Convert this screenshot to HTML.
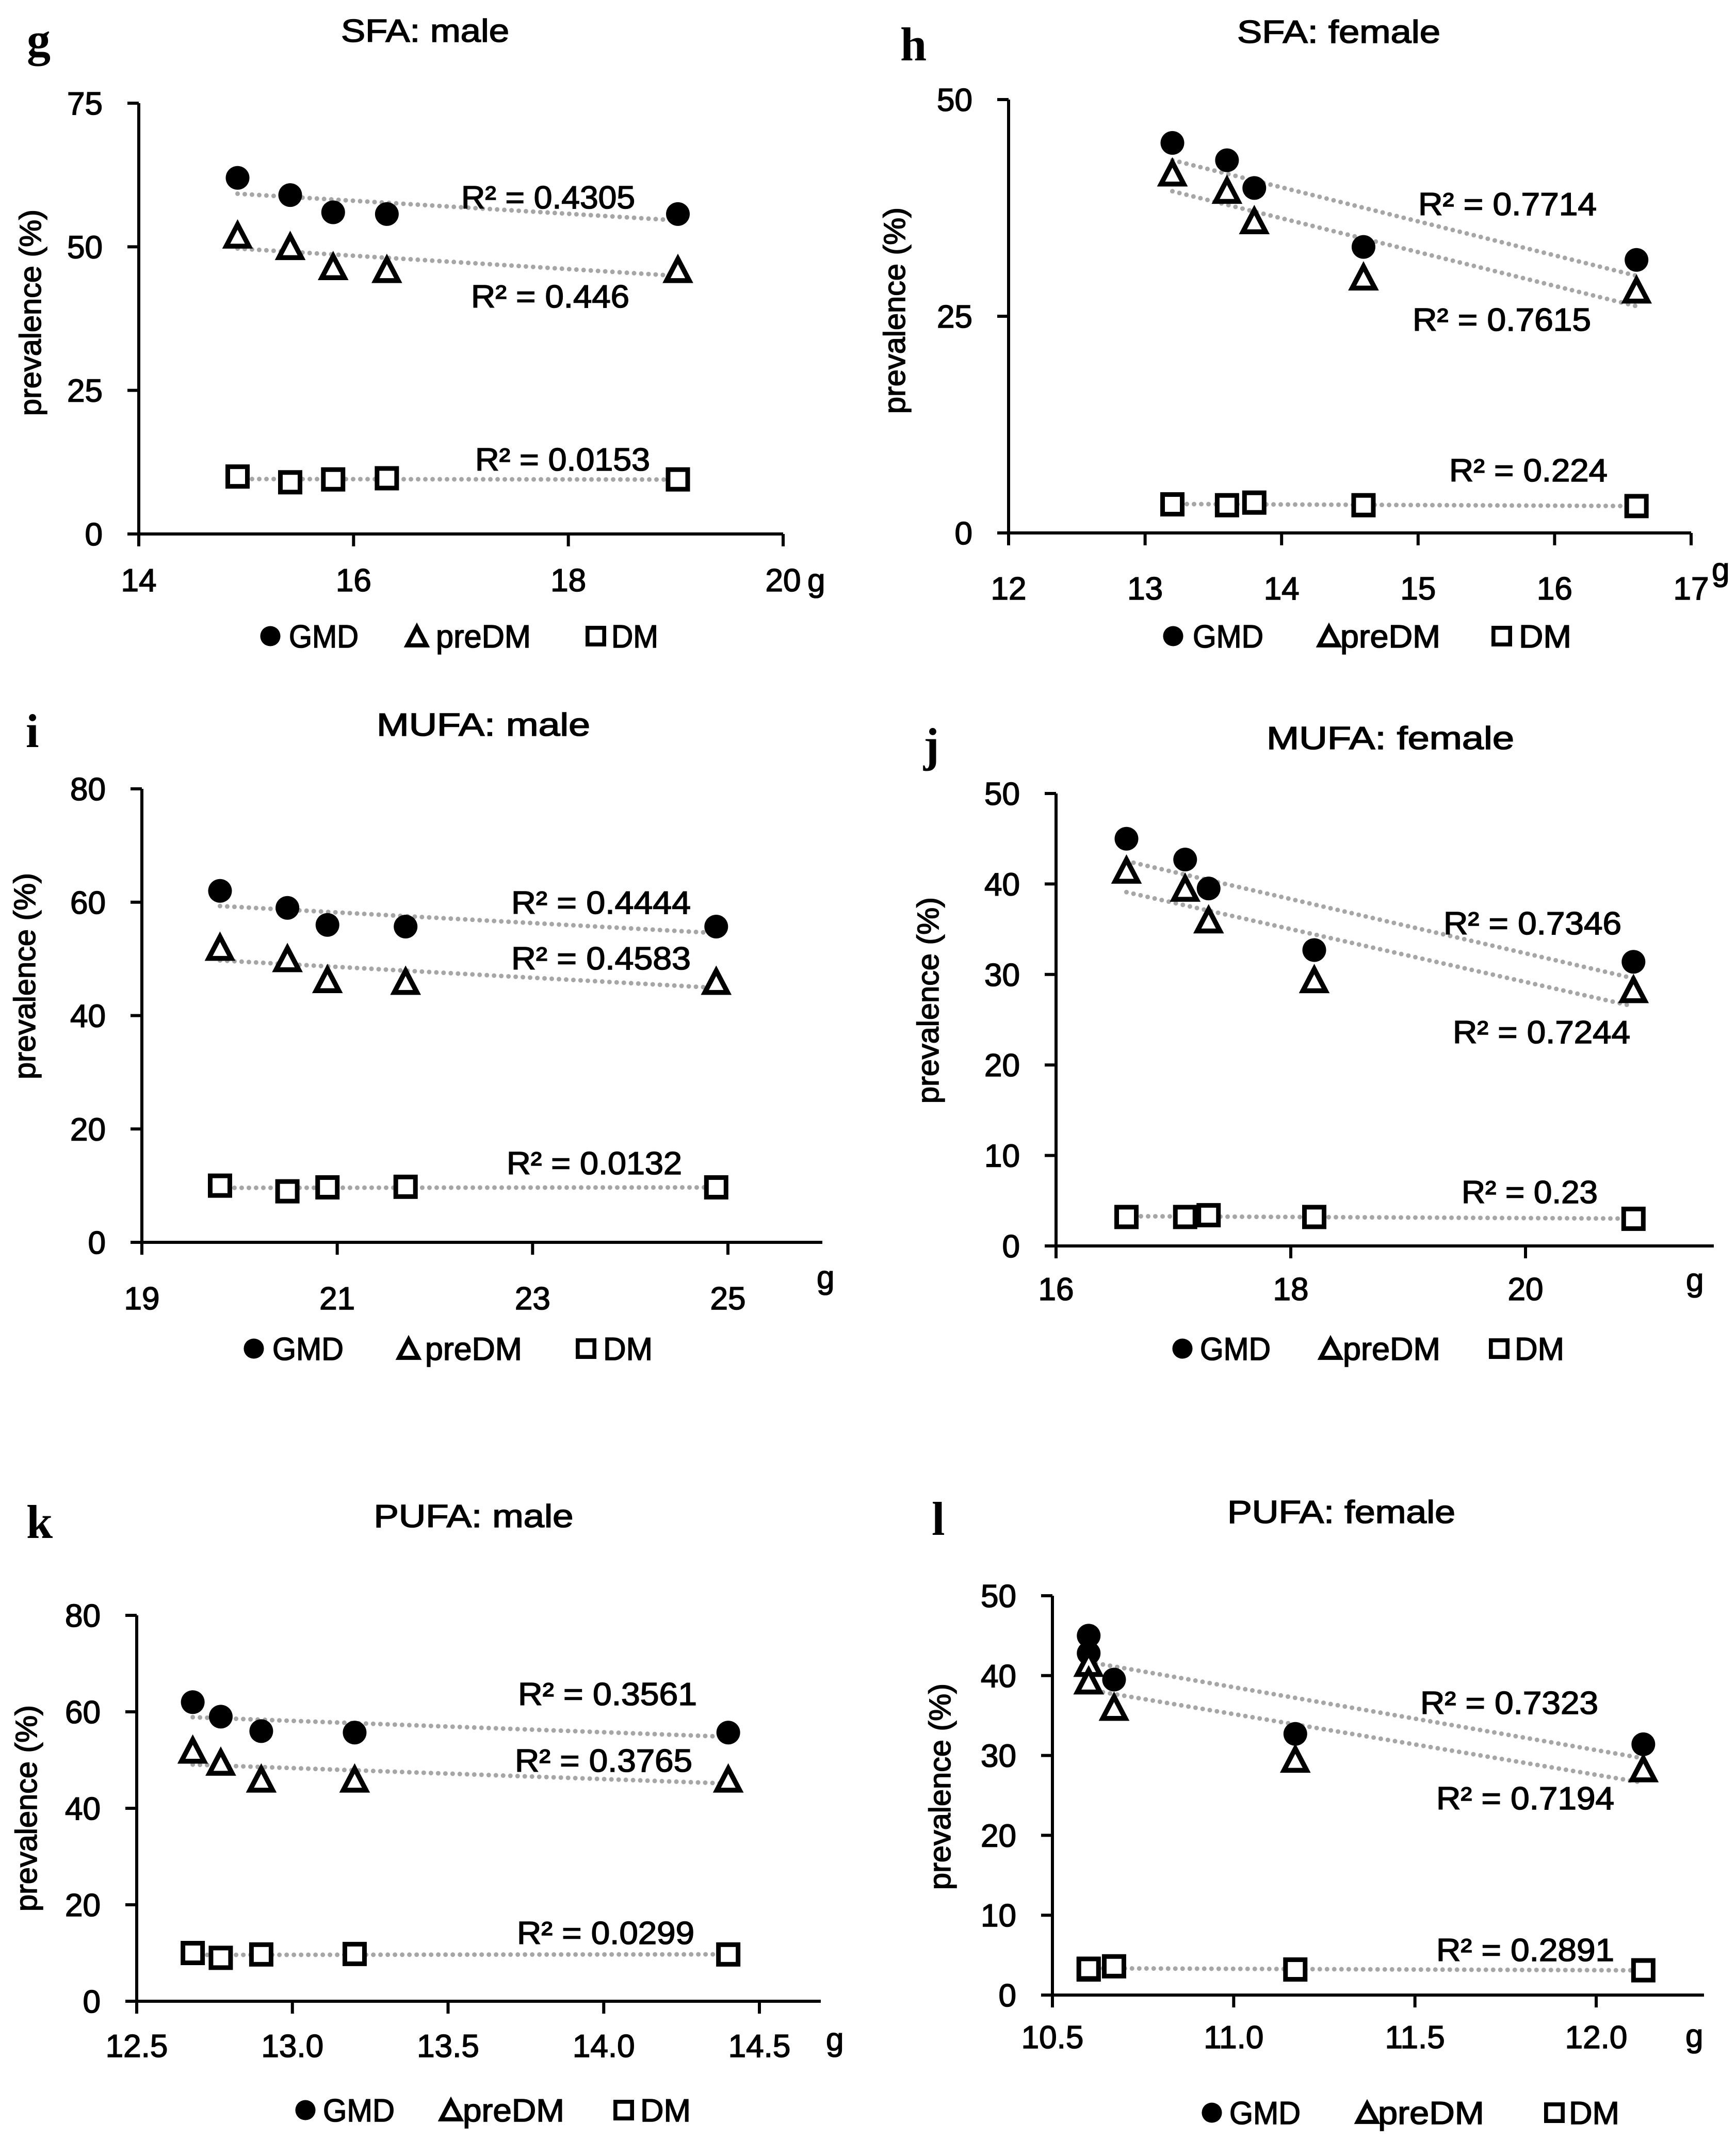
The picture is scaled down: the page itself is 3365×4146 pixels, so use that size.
<!DOCTYPE html>
<html><head><meta charset="utf-8"><style>
html,body{margin:0;padding:0;background:#fff;}
svg{display:block;}
text{font-family:"Liberation Sans",sans-serif;fill:#000;stroke:#000;stroke-width:1.6px;}
text.serif{stroke-width:0;}
</style></head><body>
<svg id="fig" width="3365" height="4146" viewBox="0 0 3365 4146" xmlns="http://www.w3.org/2000/svg"></svg>
<script>
// ---------- DATA ----------
const sfaMaleX = [14.92, 15.41, 15.81, 16.31, 19.02];
const sfaMaleGMD = [62, 59, 56, 55.7, 55.7];
const sfaMalePre = [52, 50, 46.5, 46, 46];
const sfaMaleDM = [10, 9, 9.5, 9.7, 9.5];
const sfaMaleR2 = ["R² = 0.4305", "R² = 0.446", "R² = 0.0153"];

const sfaFemX = [13.2, 13.6, 13.8, 14.6, 16.6];
const sfaFemGMD = [45, 43, 39.8, 33, 31.5];
const sfaFemPre = [41.5, 39.5, 36, 29.5, 28];
const sfaFemDM = [3.3, 3.2, 3.5, 3.2, 3.1];
const sfaFemR2 = ["R² = 0.7714", "R² = 0.7615", "R² = 0.224"];

const mufaMaleX = [19.8, 20.49, 20.9, 21.7, 24.88];
const mufaMaleGMD = [62, 59, 56, 55.7, 55.7];
const mufaMalePre = [52, 50, 46.3, 46, 46];
const mufaMaleDM = [10, 9, 9.7, 9.8, 9.7];
const mufaMaleR2 = ["R² = 0.4444", "R² = 0.4583", "R² = 0.0132"];

const mufaFemX = [16.6, 17.1, 17.3, 18.2, 20.92];
const mufaFemGMD = [45, 42.7, 39.5, 32.7, 31.4];
const mufaFemPre = [41.5, 39.5, 36, 29.4, 28.3];
const mufaFemDM = [3.2, 3.2, 3.4, 3.2, 3.0];
const mufaFemR2 = ["R² = 0.7346", "R² = 0.7244", "R² = 0.23"];

const pufaMaleX = [12.68, 12.77, 12.9, 13.2, 14.4];
const pufaMaleGMD = [62, 59, 56, 55.7, 55.7];
const pufaMalePre = [52, 49.5, 46, 46, 46];
const pufaMaleDM = [10, 9, 9.7, 9.8, 9.7];
const pufaMaleR2 = ["R² = 0.3561", "R² = 0.3765", "R² = 0.0299"];

const pufaFemX = [10.6, 10.6, 10.67, 11.17, 12.13];
const pufaFemGMD = [45, 42.8, 39.5, 32.7, 31.4];
const pufaFemPre = [41.5, 39.3, 36, 29.5, 28.3];
const pufaFemDM = [3.2, 3.3, 3.6, 3.2, 3.1];
const pufaFemR2 = ["R² = 0.7323", "R² = 0.7194", "R² = 0.2891"];

const ticksYg = [0, 25, 50, 75];
const ticksYh = [0, 25, 50];
const ticksY80 = [0, 20, 40, 60, 80];
const ticksY50 = [0, 10, 20, 30, 40, 50];
const ticksXg = [14, 16, 18, 20];
const ticksXh = [12, 13, 14, 15, 16, 17];
const ticksXi = [19, 21, 23, 25];
const ticksXj = [16, 18, 20];
const ticksXk = [12.5, 13.0, 13.5, 14.0, 14.5];
const ticksXl = [10.5, 11.0, 11.5, 12.0];
const legendLabels = ["GMD", "preDM", "DM"];

// ---------- LAYOUT ----------
const panels = [
 {id:'sfa-male', letter:'g', lx:52, ly:108, title:'SFA: male', tx:824, ty:81, tl:326,
  x:sfaMaleX, s:[sfaMaleGMD,sfaMalePre,sfaMaleDM], r2:sfaMaleR2,
  xd:[14,20], xp:[269,1518], yd:[0,75], yp:[1035,200], xEnd:1518,
  yt:ticksYg, xt:ticksXg, dec:0, ylx:59, yly:606, xlb:1146, unit:[1565,1146,'#000'],
  r2pos:[[894,404,337],[913,596,307],[921,912,339]],
  leg:[1233,[524,560,135],[808,845,184],[1155,1185,91]]},
 {id:'sfa-female', letter:'h', lx:1745, ly:117, title:'SFA: female', tx:2595, ty:83, tl:394,
  x:sfaFemX, s:[sfaFemGMD,sfaFemPre,sfaFemDM], r2:sfaFemR2,
  xd:[12,17], xp:[1955,3278], yd:[0,50], yp:[1033,193], xEnd:3278,
  yt:ticksYh, xt:ticksXh, dec:0, ylx:1734, yly:602, xlb:1162, unit:[3318,1125,'#000'],
  r2pos:[[2749,417,346],[2738,641,346],[2809,933,307]],
  leg:[1233,[2274,2312,137],[2576,2598,194],[2911,2944,102]]},
 {id:'mufa-male', letter:'i', lx:50, ly:1448, title:'MUFA: male', tx:937, ty:1426, tl:414,
  x:mufaMaleX, s:[mufaMaleGMD,mufaMalePre,mufaMaleDM], r2:mufaMaleR2,
  xd:[19,25], xp:[275,1411], yd:[0,80], yp:[2408,1529], xEnd:1594,
  yt:ticksY80, xt:ticksXi, dec:0, ylx:48, yly:1892, xlb:2538, unit:[1583,2497,'#000'],
  r2pos:[[991,1771,348],[991,1879,348],[982,2276,340]],
  leg:[2614,[492,528,138],[792,824,188],[1136,1169,96]]},
 {id:'mufa-female', letter:'j', lx:1790, ly:1475, title:'MUFA: female', tx:2695, ty:1452, tl:480,
  x:mufaFemX, s:[mufaFemGMD,mufaFemPre,mufaFemDM], r2:mufaFemR2,
  xd:[16,20], xp:[2047,2957], yd:[0,50], yp:[2415,1538], xEnd:3322,
  yt:ticksY50, xt:ticksXj, dec:0, ylx:1799, yly:1939, xlb:2520, unit:[3268,2502,'#000'],
  r2pos:[[2798,1811,345],[2816,2022,344],[2833,2332,264]],
  leg:[2614,[2292,2326,137],[2579,2603,189],[2906,2936,96]]},
 {id:'pufa-male', letter:'k', lx:51, ly:2981, title:'PUFA: male', tx:918, ty:2960, tl:387,
  x:pufaMaleX, s:[pufaMaleGMD,pufaMalePre,pufaMaleDM], r2:pufaMaleR2,
  xd:[12.5,14.5], xp:[265,1472], yd:[0,80], yp:[3879,3131], xEnd:1591,
  yt:ticksY80, xt:ticksXk, dec:1, ylx:51, yly:3505, xlb:3987, unit:[1601,3974,'#000'],
  r2pos:[[1004,3305,347],[998,3434,344],[1002,3768,344]],
  leg:[4090,[592,626,139],[874,897,197],[1209,1241,98]]},
 {id:'pufa-female', letter:'l', lx:1806, ly:2975, title:'PUFA: female', tx:2600, ty:2952, tl:442,
  x:pufaFemX, s:[pufaFemGMD,pufaFemPre,pufaFemDM], r2:pufaFemR2,
  xd:[10.5,12.0], xp:[2040,3094], yd:[0,50], yp:[3867,3093], xEnd:3303,
  yt:ticksY50, xt:ticksXl, dec:1, ylx:1822, yly:3463, xlb:3970, unit:[3267,3967,'#808080'],
  r2pos:[[2753,3322,345],[2784,3507,345],[2784,3801,345]],
  leg:[4095,[2349,2383,138],[2650,2671,206],[3013,3041,98]]}
];

const NS = 'http://www.w3.org/2000/svg';
const svg = document.getElementById('fig');
function mk(tag, attrs, parent){
  const e = document.createElementNS(NS, tag);
  for (const k in attrs) e.setAttribute(k, attrs[k]);
  (parent||svg).appendChild(e);
  return e;
}
function fit(xs, ys){
  const n = xs.length; let mx=0,my=0;
  for(let i=0;i<n;i++){mx+=xs[i];my+=ys[i];}
  mx/=n; my/=n; let sxy=0,sxx=0;
  for(let i=0;i<n;i++){sxy+=(xs[i]-mx)*(ys[i]-my);sxx+=(xs[i]-mx)**2;}
  const b = sxx? sxy/sxx : 0; return [my-b*mx, b];
}
function marker(kind, cx, cy, sc, g){
  let e;
  if(kind===0){ e = mk('circle',{cx:cx,cy:cy,r:23*sc,fill:'#000'},g); }
  else if(kind===1){
    const w=22*sc, h=42*sc;
    e = mk('polygon',{points:`${cx},${cy-h/2} ${cx+w},${cy+h/2} ${cx-w},${cy+h/2}`,fill:'#fff',stroke:'#000','stroke-width':9.5*sc,'stroke-linejoin':'miter'},g);
  } else {
    const s=38*sc;
    e = mk('rect',{x:cx-s/2,y:cy-s/2,width:s,height:s,fill:'#fff',stroke:'#000','stroke-width':9*sc},g);
  }
  return e;
}
const seriesNames = ['gmd','predm','dm'];

panels.forEach(p=>{
  const g = mk('g',{});
  
  
  const X = v => p.xp[0] + (v-p.xd[0])*(p.xp[1]-p.xp[0])/(p.xd[1]-p.xd[0]);
  const Y = v => p.yp[0] + (v-p.yd[0])*(p.yp[1]-p.yp[0])/(p.yd[1]-p.yd[0]);

  const lt = mk('text',{x:p.lx,y:p.ly,'font-size':92,'font-weight':'bold','class':'serif',style:'font-family:"Liberation Serif",serif'},g);
  lt.textContent = p.letter;
  
  

  const tt = mk('text',{x:p.tx,y:p.ty,'font-size':62,'text-anchor':'middle',textLength:p.tl,lengthAdjust:'spacingAndGlyphs'},g);
  tt.textContent = p.title;
  
  

  const yl = mk('text',{x:0,y:0,'font-size':58,'text-anchor':'middle',transform:`translate(${p.ylx+20},${p.yly}) rotate(-90)`,textLength:400,lengthAdjust:'spacingAndGlyphs'},g);
  yl.textContent = 'prevalence (%)';
  
  

  p.s.forEach((ys,si)=>{
    const xs = p.x.slice(0, ys.length);
    const [a,b] = fit(xs, ys);
    const x0 = Math.min(...xs), x1 = Math.max(...xs);
    const l = mk('line',{x1:X(x0),y1:Y(a+b*x0),x2:X(x1),y2:Y(a+b*x1),stroke:'#a6a6a6','stroke-width':9,'stroke-dasharray':'0 14','stroke-linecap':'round'},g);
    
    
  });

  const ya = mk('line',{x1:p.xp[0],y1:p.yp[1],x2:p.xp[0],y2:p.yp[0]+3,stroke:'#000','stroke-width':6},g);
  
  
  const xa = mk('line',{x1:p.xp[0]-22,y1:p.yp[0],x2:p.xEnd,y2:p.yp[0],stroke:'#000','stroke-width':6},g);
  
  

  p.yt.forEach(v=>{
    const y = Y(v);
    const t = mk('line',{x1:p.xp[0]-22,y1:y,x2:p.xp[0],y2:y,stroke:'#000','stroke-width':6},g);
    
    
    const lb = mk('text',{x:p.xp[0]-70,y:y+22,'font-size':62,'text-anchor':'end'},g);
    lb.textContent = String(v);
    
    
  });
  p.xt.forEach(v=>{
    const x = X(v);
    const t = mk('line',{x1:x,y1:p.yp[0],x2:x,y2:p.yp[0]+24,stroke:'#000','stroke-width':6},g);
    
    
    const lb = mk('text',{x:x,y:p.xlb,'font-size':62,'text-anchor':'middle'},g);
    lb.textContent = v.toFixed(p.dec);
    
    
  });
  const un = mk('text',{x:p.unit[0],y:p.unit[1],'font-size':62,fill:p.unit[2],stroke:p.unit[2]},g);
  un.textContent = 'g';
  
  

  p.s.forEach((ys,si)=>{
    ys.forEach((v,i)=>{
      const m = marker(si, X(p.x[i]), Y(v), 1, g);
      
      
    });
  });

  p.r2.forEach((s,i)=>{
    const r = p.r2pos[i];
    const t = mk('text',{x:r[0],y:r[1],'font-size':62,textLength:r[2],lengthAdjust:'spacingAndGlyphs'},g);
    t.textContent = s;
    
    
  });

  const lg = mk('g',{},g);
  
  
  const ly = p.leg[0];
  legendLabels.forEach((name,i)=>{
    const e = p.leg[i+1];
    const m = marker(i, e[0], ly, 0.85, lg);
    
    
    const t = mk('text',{x:e[1],y:ly+22,'font-size':62,textLength:e[2],lengthAdjust:'spacingAndGlyphs'},lg);
    t.textContent = name;
    
    
  });
});
</script>
</body></html>
